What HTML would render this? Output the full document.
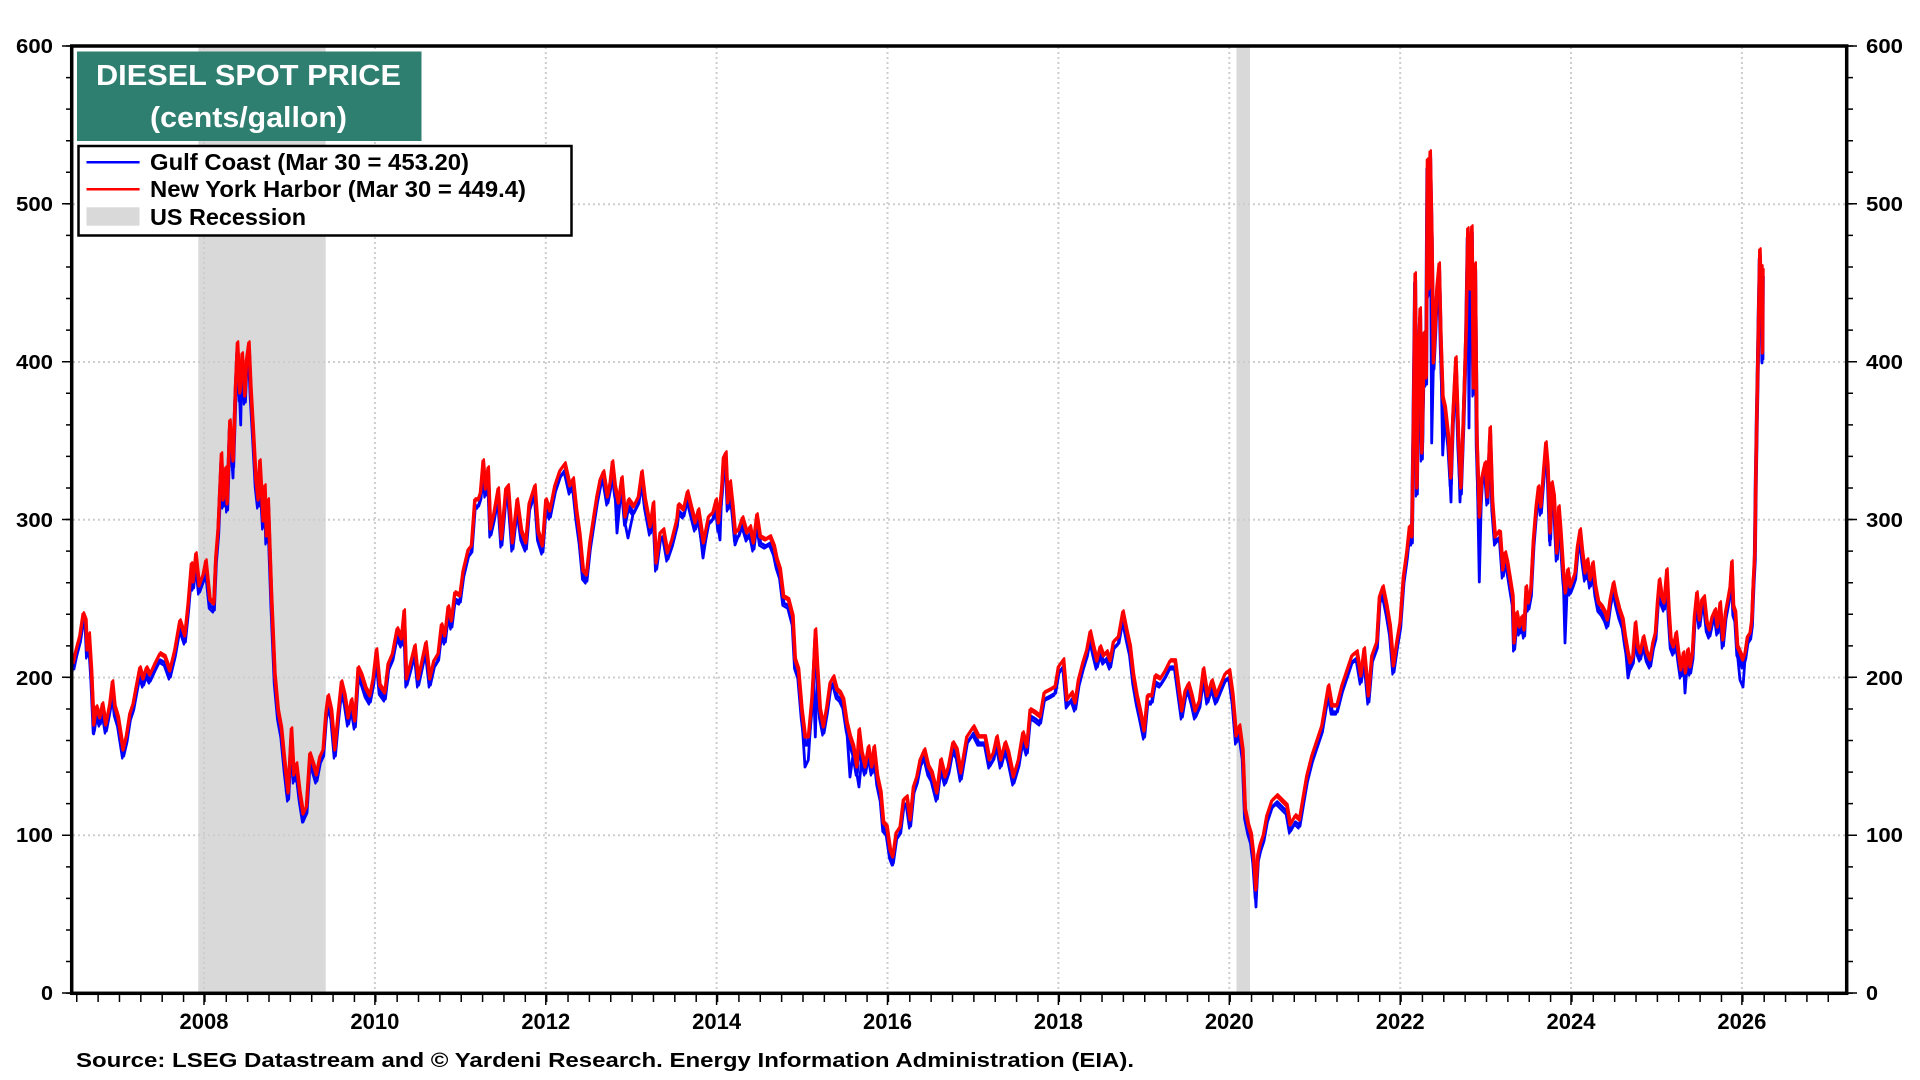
<!DOCTYPE html>
<html><head><meta charset="utf-8"><style>html,body{margin:0;padding:0;background:#fff;}svg{display:block}</style></head>
<body>
<svg width="1920" height="1080" viewBox="0 0 1920 1080" xmlns="http://www.w3.org/2000/svg" xmlns:xlink="http://www.w3.org/1999/xlink" font-family="'Liberation Sans', Arial, sans-serif" font-weight="bold">
<rect width="1920" height="1080" fill="#fff"/>
<!-- recession bands -->
<rect x="198.3" y="46" width="127.4" height="947" fill="#d9d9d9"/>
<rect x="1236.5" y="46" width="13.5" height="947" fill="#d9d9d9"/>
<!-- grid -->
<g stroke="#cdcdcd" stroke-width="2" stroke-dasharray="2,3" fill="none">
<path d="M73,835.3H1846M73,677.5H1846M73,519.8H1846M73,362H1846M73,204.3H1846"/>
<path d="M204,47V992M374.9,47V992M545.8,47V992M716.6,47V992M887.5,47V992M1058.4,47V992M1229.3,47V992M1400.2,47V992M1571,47V992M1741.9,47V992"/>
</g>
<defs>
<path id="ser" fill="none" stroke-linejoin="round" d="M73,664 L76,650 79.7,636 83,614 85.7,621 87,650 89,634 91.3,671 93.7,725 96.3,707 99.7,718 102.3,704 105.7,725 109.7,704 112.3,682 114.7,707 118,718 123,750 126.3,736 129.7,714 133,704 136.3,686 139.7,668 143,679 146.3,668 149.7,675 154.7,664 159.7,654 164.7,657 169.7,671 174.7,650 179.7,621 184.7,636 188,604 191.3,564 193,582 195.7,554 199,586 203,575 205.7,561 209.7,600 213.7,604 215.7,557 218,529 221.3,454 223,500 225.7,468 227,504 229.7,421 233,461 235.3,389 237.3,343 239.7,393 242,354 244.7,396 246.3,361 248.7,343 250.7,389 253,429 255.7,479 258,500 259.7,461 263,521 264.7,486 266.3,536 268,500 269.7,550 271.3,596 274.7,675 278,711 281.3,729 284.7,764 288,793 291.3,729 293.7,775 296.3,764 299.7,793 303,814 306.3,807 309.7,754 313,764 316.3,775 319.7,757 323,750 325.7,714 328,696 331.3,711 334.7,750 338,714 341.3,682 344.7,696 348,718 351.3,700 354.7,721 358,668 361.3,675 365.7,689 369.7,696 373,679 376.3,650 379.7,686 384.7,693 388,664 392.3,654 397,629 401.3,639 404,611 406.3,679 410.3,664 414.7,646 418,679 421.3,664 425.7,643 429.7,679 433.7,661 438,654 441.3,625 444.7,636 448,607 451.3,621 454.7,593 459.7,596 463,571 468,550 471.3,546 474.7,500 478,500 480.3,493 483,461 485.3,489 488,468 490.3,529 493.7,514 498,489 501.3,539 505.7,489 508,486 512.3,543 517,500 521.3,532 525.7,543 529,504 534.7,486 538,532 542.3,546 545.7,500 549.7,511 554.7,486 559.7,471 564.7,464 569.7,486 573,479 576.3,511 579.7,536 583,571 586.3,575 589.7,543 593,521 596.7,497 600,480 603.3,472 607.3,497 610,483 612.3,462 615,487 618.3,503 621.7,478 625,517 628.3,500 633.3,507 638.3,497 641.7,472 645,500 650,527 653.3,503 656,563 660,533 663.3,530 667.3,553 671.7,540 676.7,520 678.3,505 683.3,510 687.3,492 691.7,510 695,523 698.3,510 703.3,543 708.3,517 712.7,513 716,500 718.3,523 721.7,487 723.3,458 725.7,453 727.7,503 730,482 732.7,507 735,533 738.3,530 742.3,518 746.7,533 750,527 753.3,543 756.7,515 760,537 765,540 770,537 774,547 776.7,560 780,570 783.3,597 788.3,600 792.7,617 795,660 798.3,670 801.7,710 805,737 808.3,737 811.7,700 813.3,673 815.3,630 817.3,667 820,710 823.3,727 826.7,707 830,683 833.3,677 836.7,690 840,693 843.3,700 846.7,723 850,737 853.3,747 856.7,767 859,730 861.7,753 865,767 868.3,747 871.7,767 874,747 877.3,777 880.7,793 883.3,823 886.7,827 890,850 892.7,857 896,833 900,827 903.3,800 906.7,797 910,820 913.3,787 916.7,777 920,760 924.3,750 928.3,767 931.7,773 936.7,793 940.7,760 945,777 948.3,767 952.7,743 956.7,750 960.7,773 966.7,737 973.3,727 978.3,737 985,737 989.3,760 993.3,753 996.7,737 1000.7,760 1005,743 1008.3,753 1013.3,777 1018.3,760 1022.7,733 1026.7,747 1030,710 1035,713 1040,717 1044,693 1050,690 1055,687 1058.3,667 1063.3,660 1066.7,700 1071.7,693 1075,703 1078.3,680 1082.7,663 1086.7,650 1090,632 1093.3,647 1096.7,661 1100,647 1103.3,656 1106.7,652 1110,661 1113.3,642 1118.3,637 1122.7,612 1126.7,632 1130,647 1133.3,676 1136.7,696 1140,711 1144,731 1147.3,696 1151.7,696 1155,676 1160,679 1165,671 1170,661 1175,661 1178.3,686 1181.7,711 1185,691 1188.3,684 1191.7,696 1195,711 1199.3,701 1203.3,669 1207.3,696 1211.7,681 1216,696 1220,686 1225,674 1229.3,671 1232.7,696 1236,736 1239.3,726 1242.7,751 1245,810 1248.3,826 1251,835 1253.3,855 1255.7,890 1257.7,855 1260,845 1263.3,835 1266.7,816 1271.7,801 1276.7,796 1281.7,801 1286.7,806 1290,825 1295,816 1299.3,820 1303.3,796 1306.7,776 1311.7,756 1316.7,741 1321.7,726 1325,706 1328.3,686 1331.7,706 1336.7,706 1341.7,686 1346.7,671 1351.7,656 1356.7,652 1360.7,676 1364,649 1368.3,696 1371.7,656 1376.7,642 1379.3,597 1382.7,587 1386.7,607 1390,627 1393.3,666 1396.7,642 1400,622 1403.3,577 1406.7,552 1409.3,527 1411.7,537 1413.3,423 1415,274 1416.7,488 1418.3,363 1420,309 1421.7,453 1424,333 1426,378 1427.3,160 1428.7,289 1430,152 1431.7,239 1433.3,363 1435,329 1436.7,289 1439,264 1440.7,338 1442.7,398 1445,408 1448.3,438 1450.7,478 1452.7,418 1455.7,358 1458.3,438 1460.7,488 1463.3,418 1466,329 1467.7,229 1470,289 1471.7,227 1473.3,388 1475,264 1476.7,438 1479.3,517 1481.7,478 1485,463 1487.3,497 1490,428 1492.3,502 1495,537 1498.3,532 1500,533 1502.7,570 1505,553 1507.3,563 1510,580 1512.7,597 1514,643 1516.7,613 1519.3,627 1521.7,617 1524,630 1526,587 1528.3,603 1530.7,590 1533.3,540 1536,507 1538.3,487 1540.7,507 1543.3,473 1545.7,443 1547.7,467 1550,533 1551.7,483 1554,497 1556.7,553 1558.7,507 1560.7,533 1563.3,573 1565.3,593 1567.7,570 1570,587 1572.7,580 1575,573 1577.3,547 1580,530 1582.3,553 1585,573 1587.3,560 1590,580 1592.7,563 1595.3,587 1598.3,603 1601.7,607 1605,613 1607.3,620 1610,600 1613.3,583 1616,597 1619.3,610 1622.7,620 1625,637 1627.7,653 1630,663 1632.7,657 1635.3,623 1637.7,647 1640,653 1643.3,637 1646.7,653 1650,660 1652.7,643 1655.3,633 1657.3,603 1659.3,580 1661.7,597 1664,603 1666.7,570 1668.7,610 1670.7,640 1673.3,647 1676,633 1678.3,653 1680.7,670 1683.3,653 1685.3,673 1687.7,650 1690,667 1692.3,653 1694.3,617 1696.7,593 1699.3,620 1701.7,600 1704,597 1706.7,623 1709.3,630 1712,617 1715,610 1717.3,627 1720,603 1722.7,640 1725.3,613 1727.7,600 1730,587 1731.7,562 1733.3,607 1735.3,613 1737.3,647 1740,653 1742.7,660 1745,653 1747.3,637 1750,633 1751.7,620 1753.3,580 1754.7,553 1755.7,473 1756.7,413 1757.7,360 1758.7,303 1759.7,250 1760.7,287 1761.7,267 1762.3,353 1762.7,270"/>
</defs>
<!-- blue (Gulf Coast) -->
<use xlink:href="#ser" href="#ser" stroke="#0000ff" stroke-width="3.2" transform="translate(0.5,6)"/>
<use xlink:href="#ser" href="#ser" stroke="#0000ff" stroke-width="2.2" transform="translate(-0.8,8.5)"/>
<path fill="none" stroke="#0000ff" stroke-width="2.8" stroke-linejoin="round" d="M91.3,677 L93.7,734 L96.3,713 M229.7,427 L233,478 L235.3,395 M239.7,399 L240.7,425 L242,360 M250.7,395 L253,436 L255.7,485 M299.7,799 L303,822 L306.3,813 M286,790 L288,800 L291.3,735 M801.7,716 L805,767 L808.3,760 L811.7,706 M813.3,679 L815.3,737 L817.3,673 M890,856 L892.7,865 L896,839 M1253.3,861 L1256,907 L1257.7,861 M1420,315 L1422.7,443 L1424,339 M1430,158 L1431.7,443 L1433.3,369 M1440.7,344 L1442.7,455 L1445,414 M1448.3,444 L1451,502 L1452.7,424 M1458.3,444 L1460,502 L1463.3,424 M1467.7,235 L1469,428 L1470,295 M1476.7,444 L1479.3,582 L1481.7,484 M1512.7,603 L1514,650 L1516.7,619 M1547.7,473 L1550,545 L1551.7,489 M1563.3,579 L1565,643 L1567.7,576 M1625,643 L1628,678 L1630,669 M1683.3,659 L1685,693 L1687.7,656 M1737.3,653 L1740,680 L1743,687 L1745,659 M615,493 L617,533 L621.7,484 M625,523 L628,538 L633.3,513 M698.3,516 L703,558 L708.3,523 M718.3,529 L720,540 L721.7,493 M732.7,513 L735,545 L738.3,536 M856.7,773 L859,787 L861.7,759 M846.7,729 L850,777 L853.3,753 M1761,300 L1762,363 L1763,290"/>
<!-- red (New York Harbor) -->
<use xlink:href="#ser" href="#ser" stroke="#ff0000" stroke-width="3.2"/>
<use xlink:href="#ser" href="#ser" stroke="#ff0000" stroke-width="2.2" transform="translate(0.9,-1.8)"/>
<!-- frame -->
<rect x="71.7" y="46" width="1775" height="947.3" fill="none" stroke="#000" stroke-width="3.5"/>
<!-- ticks -->
<g stroke="#000" fill="none">
<path stroke-width="1.5" d="M62,46H71M62,203.8H71M62,361.7H71M62,519.5H71M62,677.3H71M62,835.2H71M62,993H71"/>
<path stroke-width="1.5" d="M1848,46H1857M1848,203.8H1857M1848,361.7H1857M1848,519.5H1857M1848,677.3H1857M1848,835.2H1857M1848,993H1857"/>
<path stroke-width="5" stroke-dasharray="1.5 30.07" d="M68.5,45.25V995"/>
<path stroke-width="5" stroke-dasharray="1.5 30.07" d="M1850.5,45.25V995"/>
<path stroke-width="8" stroke-dasharray="1.5 19.86" d="M76,998H1846"/>
<path stroke-width="1.5" d="M204,995V1005M374.9,995V1005M545.8,995V1005M716.6,995V1005M887.5,995V1005M1058.4,995V1005M1229.3,995V1005M1400.2,995V1005M1571,995V1005M1741.9,995V1005"/>
</g>
<!-- left y labels -->
<g font-size="20" text-anchor="end" fill="#000">
<text x="53" y="53" textLength="37" lengthAdjust="spacingAndGlyphs">600</text><text x="53" y="211" textLength="37" lengthAdjust="spacingAndGlyphs">500</text><text x="53" y="369" textLength="37" lengthAdjust="spacingAndGlyphs">400</text><text x="53" y="527" textLength="37" lengthAdjust="spacingAndGlyphs">300</text><text x="53" y="685" textLength="37" lengthAdjust="spacingAndGlyphs">200</text><text x="53" y="842" textLength="37" lengthAdjust="spacingAndGlyphs">100</text><text x="53" y="1000" textLength="12" lengthAdjust="spacingAndGlyphs">0</text>
</g>
<g font-size="20" text-anchor="start" fill="#000">
<text x="1866" y="53" textLength="37" lengthAdjust="spacingAndGlyphs">600</text><text x="1866" y="211" textLength="37" lengthAdjust="spacingAndGlyphs">500</text><text x="1866" y="369" textLength="37" lengthAdjust="spacingAndGlyphs">400</text><text x="1866" y="527" textLength="37" lengthAdjust="spacingAndGlyphs">300</text><text x="1866" y="685" textLength="37" lengthAdjust="spacingAndGlyphs">200</text><text x="1866" y="842" textLength="37" lengthAdjust="spacingAndGlyphs">100</text><text x="1866" y="1000" textLength="12" lengthAdjust="spacingAndGlyphs">0</text>
</g>
<!-- x labels -->
<g font-size="22" text-anchor="middle" fill="#000">
<text x="204" y="1029">2008</text><text x="374.9" y="1029">2010</text><text x="545.8" y="1029">2012</text><text x="716.6" y="1029">2014</text><text x="887.5" y="1029">2016</text><text x="1058.4" y="1029">2018</text><text x="1229.3" y="1029">2020</text><text x="1400.2" y="1029">2022</text><text x="1571" y="1029">2024</text><text x="1741.9" y="1029">2026</text>
</g>
<!-- source -->
<text x="76" y="1067" font-size="20.5" fill="#000" textLength="1058" lengthAdjust="spacingAndGlyphs">Source: LSEG Datastream and © Yardeni Research. Energy Information Administration (EIA).</text>
<!-- title box -->
<rect x="77" y="51.5" width="344.5" height="89.5" fill="#2f7f71"/>
<text x="96" y="85" font-size="28.5" fill="#fff" textLength="305" lengthAdjust="spacingAndGlyphs">DIESEL SPOT PRICE</text>
<text x="150" y="127" font-size="28.5" fill="#fff" textLength="197" lengthAdjust="spacingAndGlyphs">(cents/gallon)</text>
<!-- legend -->
<rect x="78.5" y="146" width="493" height="89.5" fill="#fff" stroke="#000" stroke-width="2.5"/>
<line x1="86.5" y1="162.3" x2="139.6" y2="162.3" stroke="#0000ff" stroke-width="2.5"/>
<line x1="86.5" y1="189.3" x2="139.6" y2="189.3" stroke="#ff0000" stroke-width="2.5"/>
<rect x="86.5" y="207.3" width="53" height="18.4" fill="#d9d9d9"/>
<g font-size="23" fill="#000">
<text x="150" y="170" textLength="319" lengthAdjust="spacingAndGlyphs">Gulf Coast (Mar 30 = 453.20)</text>
<text x="150" y="197" textLength="376" lengthAdjust="spacingAndGlyphs">New York Harbor (Mar 30 = 449.4)</text>
<text x="150" y="225" textLength="156" lengthAdjust="spacingAndGlyphs">US Recession</text>
</g>
</svg>
</body></html>
